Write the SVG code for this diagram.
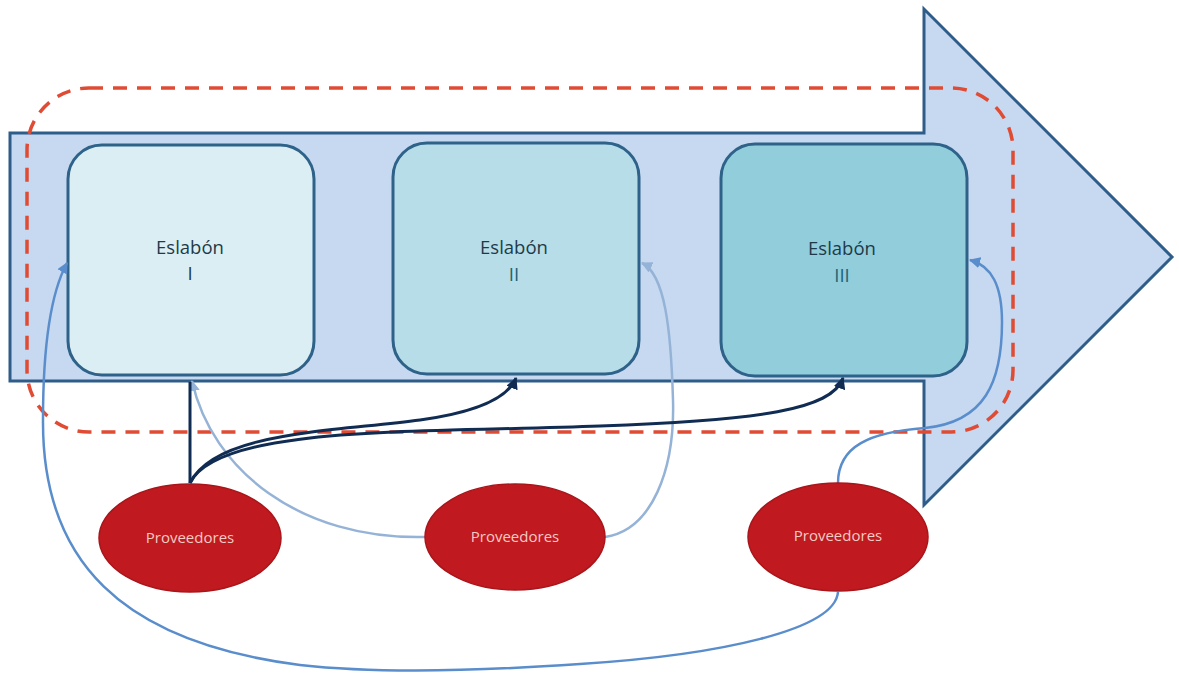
<svg xmlns="http://www.w3.org/2000/svg" width="1179" height="677" viewBox="0 0 1179 677">
  <style>
    .flow { fill: #c6d9f1; stroke: #2f5d8a; stroke-width: 3; stroke-linejoin: miter; }
    .scope { fill: none; stroke: #e04b34; stroke-width: 3.5; stroke-dasharray: 14 10; }
    .link { stroke: #2e6289; stroke-width: 3; }
    .link-label { font-family: "Open Sans", "Liberation Sans", sans-serif; font-size: 18.5px; fill: #1e3a48; text-anchor: middle; }
    .num { fill: #1d6474; }
    .supplier { fill: #c0191f; stroke: #a8161b; stroke-width: 1.5; }
    .supplier-label { font-family: "Open Sans", "Liberation Sans", sans-serif; font-size: 15px; fill: #f4cbc4; text-anchor: middle; }
    .c-dark { fill: none; stroke: #102c52; stroke-width: 3; }
    .c-light { fill: none; stroke: #95b3d7; stroke-width: 2.5; }
    .c-mid { fill: none; stroke: #5a8dcb; stroke-width: 2.5; }
  </style>
  <defs>
    <marker id="ah-dark" viewBox="0 0 10 10" refX="9" refY="5" markerWidth="4" markerHeight="4" orient="auto">
      <path d="M0,0 L10,5 L0,10 z" fill="#102c52"/>
    </marker>
    <marker id="ah-light" viewBox="0 0 10 10" refX="9" refY="5" markerWidth="4.5" markerHeight="4.5" orient="auto">
      <path d="M0,0 L10,5 L0,10 z" fill="#95b3d7"/>
    </marker>
    <marker id="ah-mid" viewBox="0 0 10 10" refX="9" refY="5" markerWidth="4.5" markerHeight="4.5" orient="auto">
      <path d="M0,0 L10,5 L0,10 z" fill="#5a8dcb"/>
    </marker>
  </defs>

  <rect width="1179" height="677" fill="#ffffff"/>

  <!-- flow arrow -->
  <g id="flow-arrow">
    <path class="flow" d="M10,133 L924,133 L924,9 L1172,257 L924,505 L924,381 L10,381 Z"/>
  </g>

  <!-- chain boundary -->
  <g id="chain-boundary">
    <rect class="scope" x="27" y="88" width="986" height="344" rx="62" ry="62"/>
  </g>

  <!-- links -->
  <g id="link-1">
    <rect class="link" x="68" y="145" width="246" height="230" rx="34" fill="#dbeef4"/>
    <text class="link-label" x="190" y="254">Eslabón</text>
    <text class="link-label" x="190" y="280">I</text>
  </g>
  <g id="link-2">
    <rect class="link" x="393" y="143" width="246" height="231" rx="34" fill="#b6dde8"/>
    <text class="link-label" x="514" y="254">Eslabón</text>
    <text class="link-label num" x="514" y="281">II</text>
  </g>
  <g id="link-3">
    <rect class="link" x="721" y="144" width="246" height="232" rx="34" fill="#92cddc"/>
    <text class="link-label" x="842" y="255">Eslabón</text>
    <text class="link-label num" x="842" y="282">III</text>
  </g>

  <!-- connectors -->
  <g id="connectors">
    <path class="c-light" d="M425,537 C300,540 212,470 192,381" marker-end="url(#ah-light)"/>
    <path class="c-light" d="M605,537 C652,530 675,470 673,400 C671,330 665,274 642,263" marker-end="url(#ah-light)"/>
    <path class="c-dark" d="M190,483 L190,382"/>
    <path class="c-dark" d="M190,483 C215,432 330,432 420,420 C478,412 508,398 516,378" marker-end="url(#ah-dark)"/>
    <path class="c-dark" d="M190,483 C218,425 420,433 600,426 C760,420 832,410 843,378" marker-end="url(#ah-dark)"/>
    <path class="c-mid" d="M838,483 C838,446 870,432 925,428 C985,422 1002,382 1002,322 C1002,286 992,266 970,260" marker-end="url(#ah-mid)"/>
    <path class="c-mid" d="M838,592 C835,630 720,655 580,664 C480,671 380,674 300,665 C120,642 42,560 43,420 C43,330 55,285 67,263" marker-end="url(#ah-mid)"/>
  </g>

  <!-- suppliers -->
  <g id="supplier-1">
    <ellipse class="supplier" cx="190" cy="538" rx="91" ry="54"/>
    <text class="supplier-label" x="190" y="543">Proveedores</text>
  </g>
  <g id="supplier-2">
    <ellipse class="supplier" cx="515" cy="537" rx="90" ry="53"/>
    <text class="supplier-label" x="515" y="542">Proveedores</text>
  </g>
  <g id="supplier-3">
    <ellipse class="supplier" cx="838" cy="537" rx="90" ry="54"/>
    <text class="supplier-label" x="838" y="541">Proveedores</text>
  </g>
</svg>
